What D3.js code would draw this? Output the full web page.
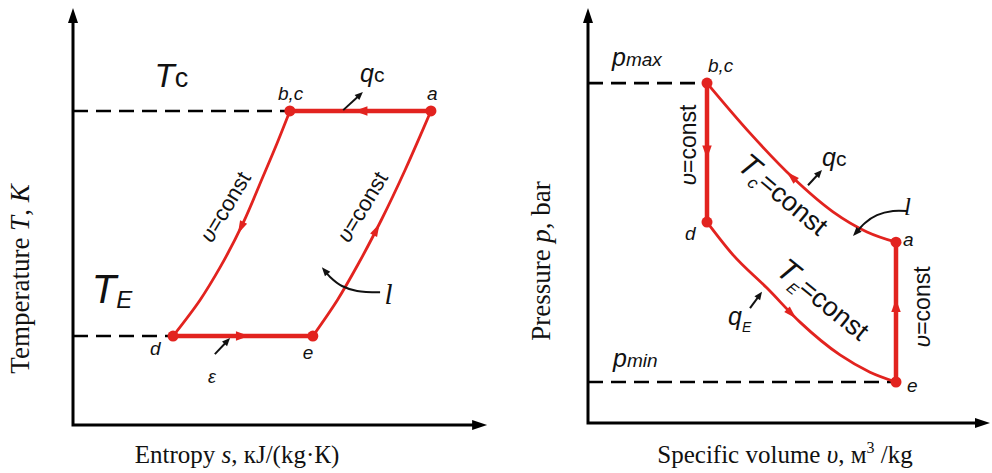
<!DOCTYPE html>
<html>
<head>
<meta charset="utf-8">
<script src="https://cdn.jsdelivr.net/npm/d3@7"></script>
<style>
  body { margin: 0; background: #fff; }
  svg { display: block; }
</style>
</head>
<body>
<script>
// T-s diagram, arbitrary units (0..10 on both axes)
const tsNames = ['a', 'b,c', 'd', 'e']
const tsS = [8.73, 5.29, 2.44, 5.85]
const tsT = [7.66, 7.66, 2.17, 2.17]
// isochore b,c -> d
const isoLeftS = [5.29, 4.98, 4.63, 4.15, 3.59, 3.10, 2.44]
const isoLeftT = [7.66, 6.88, 6.05, 4.93, 3.85, 3.05, 2.17]
// isochore e -> a
const isoRightS = [5.85, 6.45, 6.97, 7.52, 8.10, 8.51, 8.73]
const isoRightT = [2.17, 3.05, 3.95, 5.00, 6.22, 7.15, 7.66]

// p-v diagram, arbitrary units
const pvNames = ['a', 'b,c', 'd', 'e']
const pvV = [7.70, 2.975, 2.975, 7.70]
const pvP = [4.41, 8.29, 4.90, 1.00]
// isotherm Tc, a -> b,c
const isoCV = [7.70, 6.975, 6.125, 5.125, 4.05, 2.975]
const isoCP = [4.41, 4.66, 5.15, 5.98, 7.07, 8.29]
// isotherm TE, d -> e
const isoEV = [2.975, 3.625, 4.475, 5.30, 6.30, 7.05, 7.70]
const isoEP = [4.90, 4.10, 3.29, 2.46, 1.66, 1.24, 1.00]

const red = '#e2231f'
const sans = '"Liberation Sans", Arial, sans-serif'
const serif = '"Liberation Serif", "Times New Roman", serif'

const svg = d3.select('body').append('svg').attr('width', 992).attr('height', 473)

const xL = d3.scaleLinear([0, 10], [73, 483])
const yL = d3.scaleLinear([0, 10], [425, 15])
const xR = d3.scaleLinear([0, 10], [588, 988])
const yR = d3.scaleLinear([0, 10], [423, 13])

const zip = (a, b) => a.map((d, i) => [d, b[i]])

// filled triangle with its tip at (x,y)
function head(g, x, y, ang, len, wid, col) {
  g.append('path')
    .attr('d', `M0,0L${-len},${-wid / 2}L${-len},${wid / 2}Z`)
    .attr('transform', `translate(${x},${y}) rotate(${ang * 180 / Math.PI})`)
    .attr('fill', col)
}

function axes(g, x, y, xTip, yTip) {
  g.append('path')
    .attr('d', `M${x(0)},${y(yTip) + 12}V${y(0)}H${x(xTip) - 12}`)
    .attr('fill', 'none').attr('stroke', '#000').attr('stroke-width', 3)
  head(g, x(0), y(yTip), -Math.PI / 2, 15, 10, '#000')
  head(g, x(xTip), y(0), 0, 15, 10, '#000')
}

function dashed(g, x, y, v, p) {
  g.append('line')
    .attr('x1', x(0)).attr('x2', x(v)).attr('y1', y(p)).attr('y2', y(p))
    .attr('stroke', '#000').attr('stroke-width', 2.6).attr('stroke-dasharray', '15 8')
}

function segment(g, pts, x, y, w, frac, curve) {
  const gen = d3.line().x(d => x(d[0])).y(d => y(d[1])).curve(curve || d3.curveLinear)
  const p = g.append('path').attr('d', gen(pts))
    .attr('fill', 'none').attr('stroke', red).attr('stroke-width', w)
  const n = p.node(), L = n.getTotalLength()
  const a = n.getPointAtLength(frac * L), b = n.getPointAtLength(frac * L + 2)
  const ang = Math.atan2(b.y - a.y, b.x - a.x)
  head(g, a.x + 6 * Math.cos(ang), a.y + 6 * Math.sin(ang), ang, 13, w + 5, red)
}

function dots(g, x, y, xs, ys) {
  g.selectAll('circle.pt').data(zip(xs, ys)).join('circle')
    .attr('cx', d => x(d[0])).attr('cy', d => y(d[1])).attr('r', 5.5).attr('fill', red)
}

// parts: [text, size, italic, dy, family]
function label(g, px, py, parts, rot, center) {
  const t = g.append('text').attr('fill', '#111')
  if (rot !== undefined) {
    t.attr('transform', `translate(${px},${py}) rotate(${rot})`)
      .attr('x', 0).attr('y', center ? parts[parts.length - 1][1] * 0.35 : 0)
    if (center) t.attr('text-anchor', 'middle')
  } else {
    t.attr('x', px).attr('y', py)
  }
  parts.forEach(([txt, size, it, dy, fam]) => {
    t.append('tspan').text(txt)
      .attr('font-size', size).attr('font-family', fam || sans)
      .attr('font-style', it ? 'italic' : 'normal')
      .attr('dy', dy || 0)
  })
  return t
}

function smallArrow(g, x, y, a, b) {
  const x1 = x(a[0]), y1 = y(a[1]), x2 = x(b[0]), y2 = y(b[1])
  const ang = Math.atan2(y2 - y1, x2 - x1)
  g.append('line').attr('x1', x1).attr('y1', y1)
    .attr('x2', x2 - 5 * Math.cos(ang)).attr('y2', y2 - 5 * Math.sin(ang))
    .attr('stroke', '#111').attr('stroke-width', 2)
  head(g, x2, y2, ang, 8, 7, '#111')
}

function curvedArrow(g, x, y, pts) {
  const gen = d3.line().x(d => x(d[0])).y(d => y(d[1])).curve(d3.curveCatmullRom)
  const n = pts.length
  const ang = Math.atan2(y(pts[n - 1][1]) - y(pts[n - 2][1]), x(pts[n - 1][0]) - x(pts[n - 2][0]))
  g.append('path').attr('d', gen(pts.slice(0, n - 1).concat([[x.invert(x(pts[n - 1][0]) - 5 * Math.cos(ang)), y.invert(y(pts[n - 1][1]) - 5 * Math.sin(ang))]])))
    .attr('fill', 'none').attr('stroke', '#111').attr('stroke-width', 2)
  head(g, x(pts[n - 1][0]), y(pts[n - 1][1]), ang, 9, 7, '#111')
}

// ---------- left: T-s ----------
const gl = svg.append('g')
axes(gl, xL, yL, 10.1, 10.17)
dashed(gl, xL, yL, tsS[1], tsT[1])
dashed(gl, xL, yL, tsS[2], tsT[2])

segment(gl, [[tsS[0], tsT[0]], [tsS[1], tsT[1]]], xL, yL, 4.5, 0.5)
segment(gl, zip(isoLeftS, isoLeftT), xL, yL, 2.8, 0.5, d3.curveMonotoneY)
segment(gl, [[tsS[2], tsT[2]], [tsS[3], tsT[3]]], xL, yL, 4.5, 0.5)
segment(gl, zip(isoRightS, isoRightT), xL, yL, 2.8, 0.49, d3.curveMonotoneY)
dots(gl, xL, yL, tsS, tsT)

const tsOff = [[-4, -11], [-12, -11], [-23, 19], [-10, 23]]
tsNames.forEach((n, i) => label(gl, xL(tsS[i]) + tsOff[i][0], yL(tsT[i]) + tsOff[i][1], [[n, 19, true]]))

label(gl, xL(1.99), yL(8.24), [['T', 33, true], ['c', 27, false]])
label(gl, xL(0.46), yL(2.98), [['T', 40, true], ['E', 24, true, 5]])
label(gl, xL(7.0), yL(8.37), [['q', 25, true], ['c', 21, false]])
smallArrow(gl, xL, yL, [6.59, 7.68], [7.07, 8.12])
label(gl, xL(3.29), yL(1.02), [['ε', 18, true]])
smallArrow(gl, xL, yL, [3.46, 1.73], [3.83, 2.12])
label(gl, xL(3.71), yL(5.32), [['υ', 22, true], ['=const', 22, false]], -59, true)
label(gl, xL(7.05), yL(5.32), [['υ', 22, true], ['=const', 22, false]], -59, true)
label(gl, xL(7.6), yL(2.96), [['l', 29, true, 0, serif]])
curvedArrow(gl, xL, yL, [[7.49, 3.24], [6.93, 3.27], [6.56, 3.39], [6.27, 3.61], [6.07, 3.85]])

// ---------- right: p-v ----------
const gr = svg.append('g')
axes(gr, xR, yR, 10.05, 10.12)
dashed(gr, xR, yR, pvV[1], pvP[1])
dashed(gr, xR, yR, pvV[3], pvP[3])

segment(gr, zip(isoCV, isoCP), xR, yR, 2.8, 0.5, d3.curveMonotoneX)
segment(gr, [[pvV[1], pvP[1]], [pvV[2], pvP[2]]], xR, yR, 4.5, 0.5)
segment(gr, zip(isoEV, isoEP), xR, yR, 2.8, 0.5, d3.curveMonotoneX)
segment(gr, [[pvV[3], pvP[3]], [pvV[0], pvP[0]]], xR, yR, 4.5, 0.55)
dots(gr, xR, yR, pvV, pvP)

const pvOff = [[7, 4], [1, -11], [-22, 18], [11, 10]]
pvNames.forEach((n, i) => label(gr, xR(pvV[i]) + pvOff[i][0], yR(pvP[i]) + pvOff[i][1], [[n, 19, true]]))

label(gr, xR(0.6), yR(8.71), [['p', 25, true], ['max', 19, true]])
label(gr, xR(0.625), yR(1.37), [['p', 25, true], ['min', 19, true]])
label(gr, xR(5.85), yR(6.27), [['q', 25, true], ['c', 21, false]])
smallArrow(gr, xR, yR, [5.5, 5.80], [5.85, 6.17])
label(gr, xR(3.5), yR(2.39), [['q', 25, true], ['E', 14, true, 7]])
smallArrow(gr, xR, yR, [4.05, 2.80], [4.35, 3.20])
label(gr, xR(4.875), yR(5.56), [['T', 31, true], ['c', 17, true, 6], ['=const', 27, false, -6]], 40, true)
label(gr, xR(5.875), yR(3.0), [['T', 31, true], ['E', 15, true, 6], ['=const', 27, false, -6]], 39, true)
label(gr, xR(2.5), yR(6.78), [['υ', 23, true], ['=const', 23, false]], -90, true)
label(gr, xR(8.35), yR(2.83), [['υ', 23, true], ['=const', 23, false]], -90, true)
label(gr, xR(7.9), yR(5.07), [['l', 25, true, 0, serif]])
curvedArrow(gr, xR, yR, [[7.975, 5.17], [7.625, 5.17], [7.225, 5.07], [6.925, 4.88], [6.625, 4.56]])

// ---------- axis titles ----------
svg.append('text').attr('transform', 'translate(29,279) rotate(-90)')
  .attr('text-anchor', 'middle').attr('font-family', serif).attr('font-size', 27).attr('fill', '#111')
  .call(t => {
    t.append('tspan').text('Temperature ')
    t.append('tspan').text('T').attr('font-style', 'italic')
    t.append('tspan').text(', ')
    t.append('tspan').text('K').attr('font-style', 'italic')
  })
svg.append('text').attr('transform', 'translate(550,261) rotate(-90)')
  .attr('text-anchor', 'middle').attr('font-family', serif).attr('font-size', 27).attr('fill', '#111')
  .call(t => {
    t.append('tspan').text('Pressure ')
    t.append('tspan').text('p').attr('font-style', 'italic')
    t.append('tspan').text(', bar')
  })
svg.append('text').attr('x', 237).attr('y', 463)
  .attr('text-anchor', 'middle').attr('font-family', serif).attr('font-size', 25).attr('fill', '#111')
  .call(t => {
    t.append('tspan').text('Entropy ')
    t.append('tspan').text('s').attr('font-style', 'italic')
    t.append('tspan').text(', кJ/(kg·К)')
  })
svg.append('text').attr('x', 785).attr('y', 463)
  .attr('text-anchor', 'middle').attr('font-family', serif).attr('font-size', 25).attr('fill', '#111')
  .call(t => {
    t.append('tspan').text('Specific volume ')
    t.append('tspan').text('υ').attr('font-style', 'italic')
    t.append('tspan').text(', м')
    t.append('tspan').text('3').attr('font-size', 16).attr('dy', -10)
    t.append('tspan').text(' /kg').attr('dy', 10)
  })
</script>
</body>
</html>
